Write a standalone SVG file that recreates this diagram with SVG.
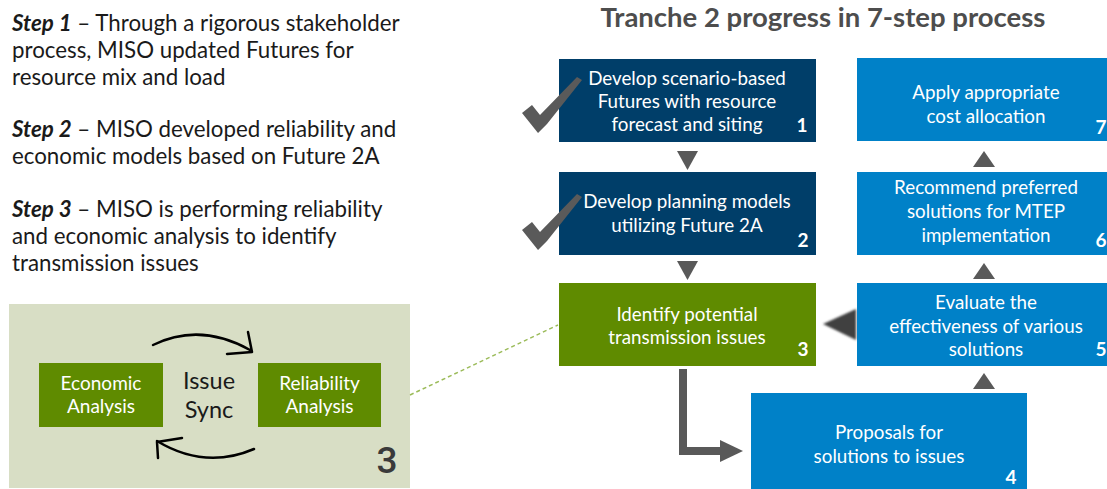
<svg xmlns="http://www.w3.org/2000/svg" width="1107" height="489" viewBox="0 0 1107 489">
<defs>
<style>
.lt{font-family:Lato,"Open Sans","Liberation Sans",sans-serif;font-size:22.3px;fill:#1a1a1a}
.bt{font-family:Lato,"Open Sans","Liberation Sans",sans-serif;font-size:18.8px;fill:#ffffff;text-anchor:middle}
.num{font-family:Lato,"Open Sans","Liberation Sans",sans-serif;font-size:19px;font-weight:bold;fill:#ffffff;text-anchor:middle}
.navy{fill:#003e69}
.blue{fill:#0081c8}
.green{fill:#5f8b00}
.tri{fill:#595959}
.chk{fill:#5a5a5a}
.sm{font-family:Lato,"Open Sans","Liberation Sans",sans-serif;font-size:19px;fill:#ffffff;text-anchor:middle}
</style>
<filter id="blur" x="-30%" y="-30%" width="160%" height="160%"><feGaussianBlur stdDeviation="1.2"/></filter>
</defs>
<rect width="1107" height="489" fill="#ffffff"/>

<g id="left-text">
<text class="lt" x="12" y="31"><tspan font-weight="bold" font-style="italic">Step 1</tspan> – Through a rigorous stakeholder</text>
<text class="lt" x="12" y="58">process, MISO updated Futures for</text>
<text class="lt" x="12" y="85">resource mix and load</text>
<text class="lt" x="12" y="137"><tspan font-weight="bold" font-style="italic">Step 2</tspan> – MISO developed reliability and</text>
<text class="lt" x="12" y="164">economic models based on Future 2A</text>
<text class="lt" x="12" y="217"><tspan font-weight="bold" font-style="italic">Step 3</tspan> – MISO is performing reliability</text>
<text class="lt" x="12" y="244">and economic analysis to identify</text>
<text class="lt" x="12" y="271">transmission issues</text>
</g>

<g id="detail-panel">
<rect x="9" y="304" width="401" height="184" fill="#d8dec5"/>
<g id="economic">
<rect class="green" x="39" y="363" width="124" height="64"/>
<text class="sm" x="101" y="390">Economic</text>
<text class="sm" x="101" y="413">Analysis</text>
</g>
<g id="reliability">
<rect class="green" x="258" y="363" width="123" height="64"/>
<text class="sm" x="319.5" y="390">Reliability</text>
<text class="sm" x="319.5" y="413">Analysis</text>
</g>
<g id="issue-sync">
<text x="209" y="389" font-family="Lato,'Open Sans','Liberation Sans',sans-serif" font-size="23.5" fill="#1a1a1a" text-anchor="middle">Issue</text>
<text x="209" y="418" font-family="Lato,'Open Sans','Liberation Sans',sans-serif" font-size="23.5" fill="#1a1a1a" text-anchor="middle">Sync</text>
</g>
<g id="sync-arrows" fill="none" stroke="#000000" stroke-width="2.5" stroke-linecap="round" stroke-linejoin="round">
<path d="M153,345 Q200,322 250,350"/>
<polyline points="248,332 252,352 227,354"/>
<path d="M254,449 Q205,470 157,441"/>
<polyline points="182,438 157,442 158,458"/>
</g>
<text x="387" y="473" font-family="Roboto,'Liberation Sans',sans-serif" font-size="37" font-weight="500" fill="#3a3a3a" text-anchor="middle">3</text>
</g>

<g id="title">
<text x="823" y="27" font-family="Lato,'Open Sans','Liberation Sans',sans-serif" font-size="27.5" font-weight="bold" fill="#4d4d4d" text-anchor="middle">Tranche 2 progress in 7-step process</text>
</g>

<g id="connectors">
<line x1="410" y1="395" x2="558" y2="325" stroke="#9bbb59" stroke-width="1.5" stroke-dasharray="4,3"/>
<polygon class="tri" points="677,151 698,151 687.5,170"/>
<polygon class="tri" points="677,261 698,261 687.5,280"/>
<polygon class="tri" points="973,167 995,167 984,151"/>
<polygon class="tri" points="973,279 995,279 984,263"/>
<polygon class="tri" points="973,389 995,389 984,373"/>
<polygon points="823,324 856,309 856,340" fill="#404040" filter="url(#blur)"/>
<path d="M683,369 L683,451 L722,451" fill="none" stroke="#595959" stroke-width="8"/>
<polygon class="tri" points="720,440 743,451 720,462"/>
</g>

<g id="step1">
<rect class="navy" x="559" y="59" width="257" height="83"/>
<text class="bt" x="687" y="85">Develop scenario-based</text>
<text class="bt" x="687" y="108">Futures with resource</text>
<text class="bt" x="687" y="131">forecast and siting</text>
<text class="num" x="802" y="132">1</text>
</g>
<g id="step2">
<rect class="navy" x="559" y="172" width="257" height="83"/>
<text class="bt" x="687" y="208">Develop planning models</text>
<text class="bt" x="687" y="232">utilizing Future 2A</text>
<text class="num" x="803" y="247">2</text>
</g>
<g id="step3">
<rect class="green" x="559" y="283" width="257" height="83"/>
<text class="bt" x="687" y="321">Identify potential</text>
<text class="bt" x="687" y="344">transmission issues</text>
<text class="num" x="803" y="356">3</text>
</g>
<g id="step4">
<rect class="blue" x="751" y="393" width="276" height="96"/>
<text class="bt" x="889" y="439">Proposals for</text>
<text class="bt" x="889" y="463">solutions to issues</text>
<text class="num" x="1011" y="484">4</text>
</g>
<g id="step5">
<rect class="blue" x="857" y="283" width="260" height="83"/>
<text class="bt" x="986" y="309">Evaluate the</text>
<text class="bt" x="986" y="333">effectiveness of various</text>
<text class="bt" x="986" y="356">solutions</text>
<text class="num" x="1101" y="356">5</text>
</g>
<g id="step6">
<rect class="blue" x="857" y="172" width="260" height="83"/>
<text class="bt" x="986" y="194">Recommend preferred</text>
<text class="bt" x="986" y="218">solutions for MTEP</text>
<text class="bt" x="986" y="242">implementation</text>
<text class="num" x="1101" y="247">6</text>
</g>
<g id="step7">
<rect class="blue" x="857" y="58" width="260" height="83"/>
<text class="bt" x="986" y="99">Apply appropriate</text>
<text class="bt" x="986" y="123">cost allocation</text>
<text class="num" x="1101" y="134">7</text>
</g>

<g id="checks">
<path class="chk" d="M522,113 L532,105 L540,115 L577,77 L582,80 L547,124 L538,133 Z"/>
<path class="chk" d="M522,230 L532,222 L540,232 L577,194 L582,197 L547,241 L538,250 Z"/>
</g>
</svg>
